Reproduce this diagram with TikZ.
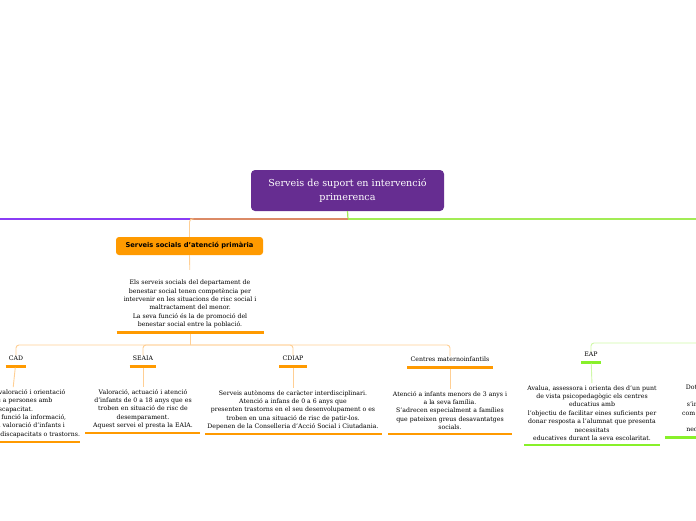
\documentclass[tikz,border=0pt]{standalone}
\usepackage{fontspec}
\setmainfont{DejaVu Serif}
\setsansfont{DejaVu Sans}
\usetikzlibrary{positioning}
\definecolor{MMpurple}{HTML}{662D91}
\definecolor{MMviolet}{HTML}{8A3CF5}
\definecolor{MMbrown}{HTML}{DB8A66}
\definecolor{MMorange}{HTML}{FF9A00}
\definecolor{MMpale}{HTML}{FFCF94}
\definecolor{MMgreen}{HTML}{A2EC55}
\definecolor{MMlime}{HTML}{88F02A}
\definecolor{MMpalegreen}{HTML}{CFF8A8}

\begin{document}
\begin{tikzpicture}[x=1pt,y=-1pt,
  rootbox/.style={fill=MMpurple,rounded corners=4pt,text=white,align=center,
    font=\fontsize{9.6}{14.5}\selectfont,minimum width=193pt,minimum height=41pt,inner sep=0pt},
  mainbox/.style={fill=MMorange,rounded corners=3pt,font=\sffamily\bfseries\fontsize{6.7}{8}\selectfont,
    minimum width=147pt,minimum height=18pt,inner sep=0pt},
  label/.style={font=\fontsize{6.2}{8}\selectfont,inner xsep=3pt,inner ysep=0pt},
  desc/.style={font=\fontsize{6.2}{8.4}\selectfont,align=center,inner sep=0pt},
  topline/.style={line width=1.2pt},
  pale/.style={draw=MMpale,line width=0.9pt},
  palegreen/.style={draw=MMpalegreen,line width=0.9pt},
  uline/.style={line width=2.6pt,draw=MMorange},
  gline/.style={line width=2.6pt,draw=MMlime}]
  \useasboundingbox (0,0) rectangle (696,520);
  \clip (0,0) rectangle (696,520);

  % central topic
  \node[rootbox] (root) at (347.5,190.5) {Serveis de suport en intervenció\\primerenca};
  \coordinate (hub) at (348,219);
  \coordinate (west) at (-60,219);
  \coordinate (east) at (800,219);

  % social services branch
  \node[mainbox] (ssap) at (189.5,246) {Serveis socials d'atenció primària};
  \node[desc] (ssdesc) at (190,304) {Els serveis socials del departament de\\
    benestar social tenen competència per\\
    intervenir en les situacions de risc social i\\
    maltractament del menor.\\
    La seva funció és la de promoció del\\
    benestar social entre la població.};
  \coordinate (bus) at (190,345);

  \node[label] (cad) at (16,358) {CAD};
  \node[label] (seaia) at (143,358) {SEAIA};
  \node[label] (cdiap) at (293,358) {CDIAP};
  \node[label] (cmi) at (450,359) {Centres maternoinfantils};

  \node[desc] (caddesc) at (13,413.5) {Informació, valoració i orientació\\
    adreçats a persones amb\\
    discapacitat.\\
    Tenen com a funció la informació,\\
    l'orientació i valoració d'infants i\\
    adolescents amb discapacitats o trastorns.};
  \node[desc] (seaiadesc) at (143,409) {Valoració, actuació i atenció\\
    d'infants de 0 a 18 anys que es\\
    troben en situació de risc de\\
    desemparament.\\
    Aquest servei el presta la EAIA.};
  \node[desc] (cdiapdesc) at (293,410) {Serveis autònoms de caràcter interdisciplinari.\\
    Atenció a infans de 0 a 6 anys que\\
    presenten trastorns en el seu desenvolupament o es\\
    troben en una situació de risc de patir-los.\\
    Depenen de la Conselleria d'Acció Social i Ciutadania.};
  \node[desc] (cmidesc) at (450,410.5) {Atenció a infants menors de 3 anys i\\
    a la seva família.\\
    S'adrecen especialment a famílies\\
    que pateixen greus desavantatges\\
    socials.};

  % education branch
  \coordinate (gbus) at (760,343);
  \node[label] (eap) at (591,354) {EAP};
  \node[desc] (eapdesc) at (592,413) {Avalua, assessora i orienta des d'un punt\\
    de vista psicopedagògic els centres\\
    educatius amb\\
    l'objectiu de facilitar eines suficients per\\
    donar resposta a l'alumnat que presenta\\
    necessitats\\
    educatives durant la seva escolaritat.};
  \node[desc] (usdesc) at (738,409) {Dotació de personal especialitzat\\
    de suport educatiu\\
    s'incorpora als centres ordinaris\\
    com a recurs per atendre l'alumnat\\
    amb greus\\
    necessitats educatives especials.};

  % top connectors
  \draw[topline,MMgreen] (root.south) -- (hub);
  \draw[topline,MMviolet] (hub) -- (west);
  \draw[topline,MMbrown] (hub) -- (ssap.north |- hub);
  \draw[topline,MMgreen] (hub) -- (east);
  \draw[pale,rounded corners=3pt] ([xshift=4pt]ssap.north |- hub) -| (ssap.north);

  % social services connectors
  \draw[pale,shorten >=10pt] (ssap.south) -- (ssdesc.north);
  \draw[uline] ([xshift=-73.5pt,yshift=-4pt]ssdesc.south) -- ([xshift=73.5pt,yshift=-4pt]ssdesc.south);
  \draw[pale] ([yshift=-5.5pt]ssdesc.south) -- (bus);
  \foreach \n in {cad,seaia,cdiap,cmi} {
    \draw[pale,rounded corners=3pt] (bus) -| (\n.north);
    \draw[uline] ([yshift=-6pt]\n.south west) -- ([yshift=-6pt]\n.south east);
    \draw[pale,shorten <=7pt,shorten >=2pt] (\n.south) -- (\n desc.north);
  }
  \draw[uline] ([xshift=-67pt,yshift=-4pt]caddesc.south) -- ([xshift=67pt,yshift=-4pt]caddesc.south);
  \draw[uline] ([xshift=-58pt,yshift=-4pt]seaiadesc.south) -- ([xshift=57pt,yshift=-4pt]seaiadesc.south);
  \draw[uline] ([xshift=-88pt,yshift=-4pt]cdiapdesc.south) -- ([xshift=89pt,yshift=-4pt]cdiapdesc.south);
  \draw[uline] ([xshift=-62pt,yshift=-4pt]cmidesc.south) -- ([xshift=62pt,yshift=-4pt]cmidesc.south);

  % education connectors
  \draw[palegreen,rounded corners=3pt] (gbus) -| (eap.north);
  \draw[palegreen] (gbus) -| (usdesc.north);
  \draw[gline] ([yshift=-6pt]eap.south west) -- ([yshift=-6pt]eap.south east);
  \draw[palegreen,shorten <=7pt,shorten >=2pt] (eap.south) -- (eapdesc.north);
  \draw[gline] ([xshift=-68pt,yshift=-4pt]eapdesc.south) -- ([xshift=68pt,yshift=-4pt]eapdesc.south);
  \draw[gline] ([xshift=-73pt,yshift=-4pt]usdesc.south) -- ([xshift=67pt,yshift=-4pt]usdesc.south);
\end{tikzpicture}
\end{document}
